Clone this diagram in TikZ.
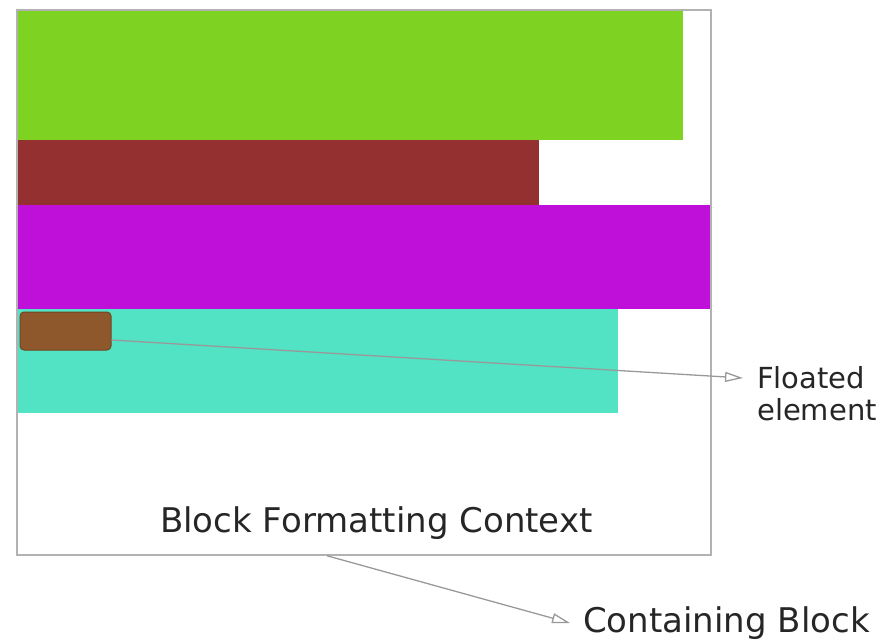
\documentclass[tikz,border=0pt]{standalone}
\usepackage{fontspec}
\setmainfont{DejaVu Sans}
\usetikzlibrary{arrows.meta, positioning}

\definecolor{bfgreen}{RGB}{126,210,33}
\definecolor{bfbrick}{RGB}{149,48,48}
\definecolor{bfmagenta}{RGB}{190,16,216}
\definecolor{bfturq}{RGB}{82,226,196}
\definecolor{bffloat}{RGB}{142,88,44}

\begin{document}
\begin{tikzpicture}[x=1pt, y=-1pt,
    txt/.style={font=\fontsize{34}{40}\selectfont, text=black!85, inner sep=0pt},
    smalltxt/.style={font=\fontsize{29}{32}\selectfont, text=black!85, inner sep=0pt},
    pointer/.style={draw=black!40, line width=1.3pt, -{Triangle[open, length=18pt, width=10pt]}},
    floatbox/.style={fill=bffloat, draw=bffloat!80!black, line width=1pt, rounded corners=4pt,
        minimum width=91pt, minimum height=38pt, inner sep=0pt}
]
    \useasboundingbox (0,0) rectangle (882,643);

    % block boxes inside the context
    \fill[bfgreen] (17,10) rectangle (683,140);
    \fill[bfbrick] (17,140) rectangle (539,205);
    \fill[bfmagenta] (17,205) rectangle (711,309);
    \fill[bfturq] (17,309) rectangle (618,413);

    % containing block outline
    \node (cb) [draw=black!30, line width=1.5pt, minimum width=694pt, minimum height=545pt, inner sep=0pt]
        at (364,282.5) {};
    \node (bfc) [txt, anchor=base west] at (160,532) {Block Formatting Context};

    % floated element
    \node (flt) [floatbox] at (65.5,331) {};
    \coordinate (fltip) at (743,378);
    \node (flttxt) [smalltxt, align=left, anchor=north west] at (757,366) {Floated\\element};
    \draw[pointer] ([yshift=-9pt]flt.east) -- (fltip);

    % containing block pointer
    \coordinate (cbtip) at (570,623);
    \node (cbtxt) [txt, anchor=base west] at (583,632) {Containing Block};
    \draw[pointer] ([xshift=-37pt]cb.south) -- (cbtip);
\end{tikzpicture}
\end{document}
